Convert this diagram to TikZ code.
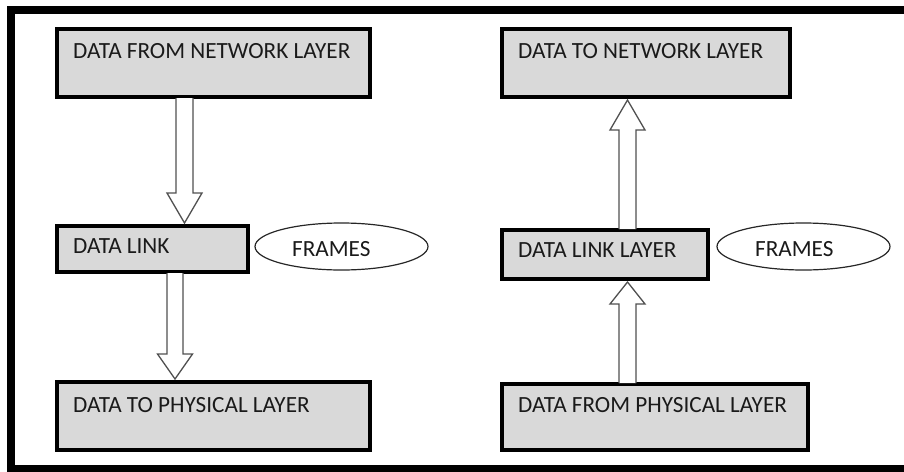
\documentclass[tikz,border=0pt]{standalone}
\usepackage{fontspec}
\setmainfont{Carlito}
\usetikzlibrary{calc,shapes.geometric}
\definecolor{boxfill}{HTML}{D9D9D9}
\definecolor{arrowline}{HTML}{505050}
\definecolor{txt}{HTML}{1A1A1A}
\begin{document}
\begin{tikzpicture}[x=1pt,y=-1pt,
  layerbox/.style={draw=black,line width=4pt,fill=boxfill,rectangle,inner sep=0pt,anchor=north west},
  boxtext/.style={anchor=base west,inner sep=0pt,text=txt,font=\fontsize{23.2}{27}\selectfont},
  frameoval/.style={draw=black!85,line width=1.2pt,ellipse,fill=white,minimum width=173pt,minimum height=47pt,inner sep=0pt},
  blockarrow/.style={draw=arrowline,line width=1.3pt,fill=white,line join=miter}
]
\useasboundingbox (0,0) rectangle (904,471);
\begin{scope}
\clip (0,0) rectangle (904,471);
\draw[line width=8pt] (10.5,10) rectangle (920,468.5);
\end{scope}

% left column
\node[layerbox,minimum width=313pt,minimum height=68pt] (b1) at (55,27) {};
\node[layerbox,minimum width=191pt,minimum height=46pt] (b2) at (55,224) {};
\node[layerbox,minimum width=313pt,minimum height=68pt] (b3) at (55,380) {};
\node[boxtext] (t1) at (73,58) {DATA FROM NETWORK LAYER};
\node[boxtext] (t2) at (73,253) {DATA LINK};
\node[boxtext] (t3) at (73,412) {DATA TO PHYSICAL LAYER};
\node[frameoval] (e1) at (341.5,246.5) {};
\node[boxtext] (f1) at (292,256) {FRAMES};

% right column
\node[layerbox,minimum width=288pt,minimum height=68pt] (b4) at (500,27) {};
\node[layerbox,minimum width=206pt,minimum height=49pt] (b5) at (500,228) {};
\node[layerbox,minimum width=306pt,minimum height=66pt] (b6) at (500,382) {};
\node[boxtext] (t4) at (518,58) {DATA TO NETWORK LAYER};
\node[boxtext] (t5) at (518,257) {DATA LINK LAYER};
\node[boxtext] (t6) at (518,412) {DATA FROM PHYSICAL LAYER};
\node[frameoval] (e2) at (803.5,246.5) {};
\node[boxtext] (f2) at (755,256) {FRAMES};

% arrow end points
\coordinate (a1s) at (b1.south -| 184.5,0);
\coordinate (a1e) at (b2.north -| 184.5,0);
\coordinate (a2s) at (b2.south -| 175,0);
\coordinate (a2e) at (b3.north -| 175,0);
\coordinate (a3s) at (b5.north -| 627.5,0);
\coordinate (a3e) at (b4.south -| 627.5,0);
\coordinate (a4s) at (b6.north -| 627.5,0);
\coordinate (a4e) at (b5.south -| 627.5,0);

% downward block arrows
\draw[blockarrow] ($(a1s)+(-8.5,-1)$) -- ($(a1e)+(-8.5,-31)$) -- ($(a1e)+(-17.5,-31)$) -- ($(a1e)+(0,-1)$)
  -- ($(a1e)+(17.5,-31)$) -- ($(a1e)+(8.5,-31)$) -- ($(a1s)+(8.5,-1)$);
\draw[blockarrow] ($(a2s)+(-8,-1)$) -- ($(a2e)+(-8,-26)$) -- ($(a2e)+(-17.5,-26)$) -- ($(a2e)+(0,-1)$)
  -- ($(a2e)+(17.5,-26)$) -- ($(a2e)+(8,-26)$) -- ($(a2s)+(8,-1)$);
% upward block arrows
\draw[blockarrow] ($(a3s)+(-8.5,1)$) -- ($(a3e)+(-8.5,31)$) -- ($(a3e)+(-17.5,31)$) -- ($(a3e)+(0,1)$)
  -- ($(a3e)+(17.5,31)$) -- ($(a3e)+(8.5,31)$) -- ($(a3s)+(8.5,1)$);
\draw[blockarrow] ($(a4s)+(-8.5,1)$) -- ($(a4e)+(-8.5,23)$) -- ($(a4e)+(-17.5,23)$) -- ($(a4e)+(0,1)$)
  -- ($(a4e)+(17.5,23)$) -- ($(a4e)+(8.5,23)$) -- ($(a4s)+(8.5,1)$);
\end{tikzpicture}
\end{document}
